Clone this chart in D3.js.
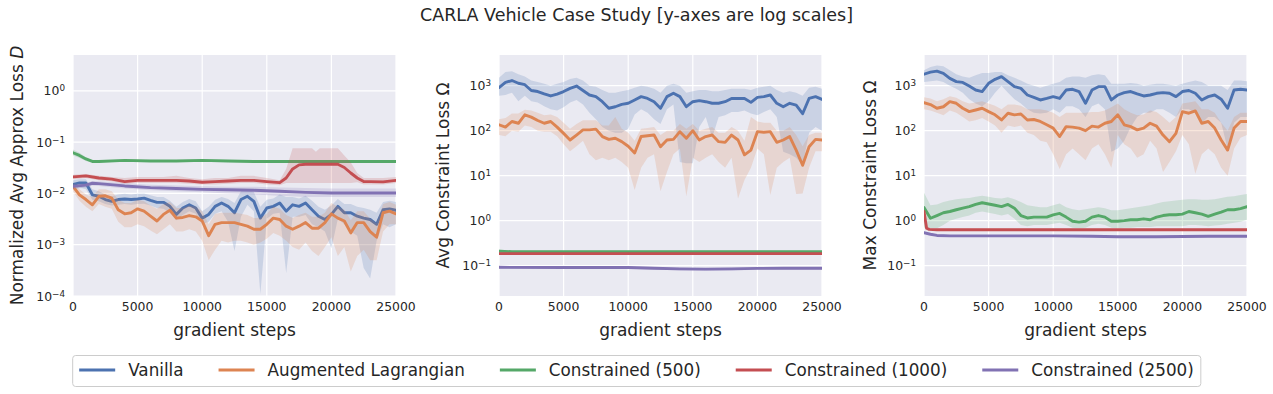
<!DOCTYPE html>
<html>
<head>
<meta charset="utf-8">
<script src="https://cdn.jsdelivr.net/npm/d3@7/dist/d3.min.js"></script>
<style>
  body { margin: 0; background: #ffffff; }
  text { font-family: "DejaVu Sans", sans-serif; fill: #262626; }
</style>
</head>
<body>
<div id="chart"></div>
<script>

// ---- data ----
var steps = [0,500,1000,1500,2000,2500,3000,3500,4000,4500,
    5000,5500,6000,6500,7000,7500,8000,8500,9000,9500,
    10000,10500,11000,11500,12000,12500,13000,13500,14000,14500,
    15000,15500,16000,16500,17000,17500,18000,18500,19000,19500,
    20000,20500,21000,21500,22000,22500,23000,23500,24000,24500,25000];

var seriesNames = ["Vanilla", "Augmented Lagrangian", "Constrained (500)", "Constrained (1000)", "Constrained (2500)"];
var seriesColors = ["#4c72b0", "#dd8452", "#55a868", "#c44e52", "#8172b3"];
var xTicks = [0, 5000, 10000, 15000, 20000, 25000];

// panel 1: normalized avg approx loss
var p1_vanilla_mean = [0.015,0.016,0.016,0.0094,0.0088,0.0076,0.007,0.0076,0.0078,0.0076,
    0.0078,0.0081,0.0073,0.0067,0.0067,0.0056,0.0039,0.0052,0.006,0.0052,
    0.0033,0.0039,0.0056,0.0065,0.0056,0.0042,0.0076,0.0088,0.007,0.0033,
    0.0052,0.0056,0.0065,0.0045,0.006,0.0056,0.0065,0.0048,0.0036,0.0031,
    0.0039,0.0056,0.0042,0.0042,0.0036,0.0033,0.0031,0.0025,0.0048,0.005,0.0047];
var p1_vanilla_lo = [0.012,0.013,0.012,0.0075,0.007,0.0062,0.0058,0.006,0.0062,0.006,
    0.0062,0.0063,0.0058,0.0052,0.005,0.0042,0.003,0.0038,0.0045,0.004,
    0.0025,0.0028,0.004,0.0045,0.0028,0.00075,0.0035,0.006,0.0045,0.00011,
    0.0032,0.004,0.0042,0.00028,0.0035,0.0035,0.0038,0.0025,0.0022,0.0018,
    0.00085,0.0032,0.0025,0.0018,0.0015,0.00035,0.00022,0.0012,0.0025,0.0022,0.0025];
var p1_vanilla_hi = [0.018,0.019,0.019,0.012,0.011,0.0095,0.0088,0.0095,0.0098,0.0095,
    0.0098,0.01,0.0092,0.0085,0.0085,0.0072,0.0055,0.0068,0.0078,0.007,
    0.0045,0.0055,0.0075,0.0085,0.0078,0.0065,0.011,0.012,0.0105,0.0055,
    0.0075,0.008,0.0095,0.0085,0.0085,0.008,0.009,0.0072,0.0055,0.0048,
    0.0058,0.0078,0.0062,0.0062,0.0055,0.0052,0.0048,0.0042,0.0068,0.0072,0.0068];

var p1_auglag_mean = [0.0137,0.0094,0.0076,0.006,0.0088,0.009,0.0081,0.0048,0.004,0.0042,
    0.005,0.0045,0.0036,0.0029,0.0039,0.0047,0.0033,0.0034,0.0037,0.0035,
    0.0029,0.0015,0.0025,0.0027,0.0027,0.0027,0.0025,0.0023,0.002,0.002,
    0.0025,0.0033,0.0031,0.0023,0.002,0.0023,0.0027,0.0021,0.0021,0.0027,
    0.004,0.0033,0.0029,0.0017,0.0027,0.0027,0.0018,0.0014,0.0042,0.0045,0.004];
var p1_auglag_lo = [0.011,0.0072,0.0055,0.0045,0.0062,0.0055,0.005,0.0028,0.0022,0.0022,
    0.0025,0.0023,0.0019,0.0016,0.002,0.0025,0.0018,0.0018,0.002,0.0018,
    0.0012,0.0005,0.0008,0.0012,0.0011,0.0012,0.0012,0.0011,0.001,0.0011,
    0.0013,0.0017,0.0015,0.0012,0.0009,0.0008,0.0011,0.00075,0.0006,0.0009,
    0.0014,0.0006,0.0009,0.0003,0.0006,0.0008,0.0005,0.0005,0.0018,0.0025,0.0025];
var p1_auglag_hi = [0.016,0.012,0.0095,0.0085,0.012,0.012,0.011,0.0075,0.0065,0.0065,
    0.0075,0.007,0.0058,0.005,0.0062,0.0068,0.0052,0.0052,0.0058,0.0055,
    0.0045,0.0025,0.004,0.0042,0.0042,0.0042,0.004,0.0038,0.0033,0.0033,
    0.004,0.0055,0.005,0.0038,0.0033,0.0038,0.0042,0.0035,0.0035,0.0042,
    0.0065,0.0055,0.0048,0.003,0.0045,0.0045,0.0032,0.0026,0.0062,0.0068,0.006];

var p1_c500_steps = [0,500,1000,1500,2000,4000,6000,8000,10000,12000,14000,16000,18000,20000,22000,25000];
var p1_c500_mean = [0.062,0.055,0.047,0.042,0.042,0.044,0.043,0.043,0.044,0.043,0.042,0.042,0.042,0.042,0.042,0.042];
var p1_c500_lo = [0.055,0.049,0.043,0.04,0.04,0.042,0.041,0.041,0.042,0.041,0.04,0.04,0.04,0.04,0.04,0.04];
var p1_c500_hi = [0.072,0.062,0.051,0.044,0.044,0.046,0.045,0.045,0.046,0.045,0.044,0.044,0.044,0.044,0.044,0.044];

var p1_c1000_steps = [0,1000,2000,3000,4000,5000,6000,7000,8000,9000,
    10000,11000,12000,13000,14000,15000,16000,16500,17000,17500,
    18000,18500,18800,19100,19500,20500,21000,21500,22000,22500,23000,24000,25000];
var p1_c1000_mean = [0.021,0.022,0.02,0.019,0.017,0.018,0.018,0.018,0.018,0.0175,
    0.0165,0.017,0.0175,0.018,0.018,0.017,0.0162,0.02,0.03,0.036,
    0.037,0.037,0.037,0.037,0.037,0.037,0.032,0.025,0.02,0.017,0.017,0.0168,0.018];
var p1_c1000_lo = [0.019,0.02,0.018,0.017,0.0155,0.016,0.016,0.016,0.016,0.0155,
    0.015,0.015,0.0155,0.016,0.016,0.015,0.0145,0.016,0.016,0.016,
    0.016,0.016,0.016,0.016,0.016,0.016,0.016,0.016,0.0165,0.015,0.015,0.015,0.016];
var p1_c1000_hi = [0.023,0.024,0.022,0.021,0.02,0.021,0.021,0.021,0.022,0.02,
    0.019,0.02,0.02,0.022,0.022,0.02,0.018,0.03,0.076,0.076,
    0.076,0.076,0.065,0.076,0.076,0.076,0.055,0.04,0.025,0.02,0.02,0.02,0.021];

var p1_c2500_steps = [0,1000,1500,2000,4000,6000,8000,10000,12000,14000,16000,18000,20000,22000,25000];
var p1_c2500_mean = [0.0137,0.0145,0.0158,0.0155,0.014,0.013,0.0125,0.012,0.0118,0.0115,0.011,0.0105,0.0102,0.0102,0.0102];
var p1_c2500_lo = [0.012,0.013,0.0142,0.014,0.0125,0.0115,0.011,0.0105,0.01,0.0095,0.009,0.0085,0.0085,0.0085,0.0085];
var p1_c2500_hi = [0.0155,0.016,0.0175,0.0172,0.0158,0.0148,0.0142,0.0138,0.0135,0.0135,0.013,0.0128,0.0125,0.0125,0.0125];

// panel 2: avg constraint loss
var p2_vanilla_mean = [900,1180,1300,1130,1050,780,740,655,590,650,
    740,870,980,780,620,570,440,315,340,385,
    406,481,570,520,440,315,570,677,570,341,
    440,465,440,406,406,440,520,520,520,425,
    550,570,620,406,341,406,370,238,520,570,495];
var p2_vanilla_lo = [600,620,700,450,600,450,420,350,300,280,
    330,420,480,380,250,180,120,100,90,90,
    110,230,300,250,180,140,300,380,20,19,
    19,120,200,70,200,220,260,260,280,240,
    220,260,300,200,34,30,25,17,90,120,100];
var p2_vanilla_hi = [1500,2000,2100,1800,1600,1300,1200,1100,1000,1100,
    1200,1400,1500,1300,1000,950,800,700,700,750,
    800,900,1000,950,850,700,1000,1100,1000,700,
    750,800,800,750,750,800,850,850,850,800,
    900,950,1000,800,700,750,700,600,900,950,850];

var p2_auglag_mean = [135,120,160,146,225,200,168,146,160,120,
    87,62,80,104,104,108,74,64,68,57,
    45,32,74,77,80,44,62,64,95,68,
    100,62,74,80,57,55,80,62,29,37,
    95,92,95,55,62,74,37,17,44,64,62];
var p2_auglag_lo = [80,75,100,95,130,120,100,95,95,75,
    50,35,45,60,30,22,25,22,25,20,
    15,4.8,15,25,30,4.5,12,30,40,3.5,
    25,20,25,30,20,15,25,3.1,8,15,
    40,30,3.7,15,20,25,3.9,4,15,35,35];
var p2_auglag_hi = [180,190,240,240,290,280,250,220,230,200,
    150,110,140,170,170,170,130,130,200,110,
    90,60,110,115,120,80,100,100,140,110,
    140,100,110,120,90,90,120,100,60,200,
    160,150,150,100,100,120,80,45,80,90,90];

var p2_c500_steps = [0,1000,25000];
var p2_c500_mean = [0.21,0.205,0.205];
var p2_c500_lo = [0.19,0.195,0.197];
var p2_c500_hi = [0.23,0.215,0.213];

var p2_c1000_steps = [0,25000];
var p2_c1000_mean = [0.185,0.185];
var p2_c1000_lo = [0.178,0.178];
var p2_c1000_hi = [0.192,0.192];

var p2_c2500_steps = [0,5000,10000,12000,14000,16000,18000,20000,22000,25000];
var p2_c2500_mean = [0.092,0.091,0.091,0.088,0.085,0.084,0.085,0.087,0.088,0.088];
var p2_c2500_lo = [0.086,0.085,0.085,0.082,0.078,0.077,0.078,0.081,0.082,0.082];
var p2_c2500_hi = [0.097,0.096,0.096,0.093,0.09,0.089,0.09,0.092,0.093,0.093];

// panel 3: max constraint loss
var p3_vanilla_mean = [1800,2000,2100,1880,1450,1230,1180,980,800,740,
    1130,1380,1585,1230,950,870,620,550,481,520,
    570,520,800,830,740,406,800,950,950,481,
    620,700,740,655,590,620,677,700,677,570,
    740,780,677,481,570,620,500,315,800,830,800];
var p3_vanilla_lo = [1200,1250,1300,1200,1000,850,700,500,400,350,
    450,700,1000,700,500,400,300,250,240,250,
    300,250,350,350,300,200,350,400,300,34,
    40,60,120,200,250,250,300,300,250,200,
    300,300,250,150,200,200,150,40,150,200,200];
var p3_vanilla_hi = [2200,2600,2800,2700,2200,1800,1600,1500,1700,1900,
    1900,2000,2000,1700,1500,1300,1100,1000,900,1000,
    1100,1200,1500,1600,1600,1500,1700,1800,1700,1100,
    1100,1100,1150,1100,1000,1050,1100,1100,1050,1000,
    1100,1200,1300,1200,1000,1000,1000,800,1300,1300,1250];

var p3_auglag_mean = [420,380,315,340,440,406,315,265,288,315,
    265,225,173,244,225,235,173,177,160,135,
    114,74,123,120,114,100,126,120,146,160,
    225,135,123,104,114,146,126,80,57,87,
    265,244,275,146,160,114,62,37,114,160,160];
var p3_auglag_lo = [300,280,250,220,280,250,200,160,170,190,
    160,130,90,130,120,130,90,80,60,55,
    30,14,30,40,30,22,40,50,30,15,
    80,50,40,25,30,60,40,12,20,35,
    80,50,11,30,40,30,15,10,40,70,80];
var p3_auglag_hi = [550,520,450,500,580,540,450,400,420,450,
    400,360,300,380,380,360,300,300,300,280,
    250,200,250,250,250,250,260,260,280,330,
    400,300,250,220,230,280,260,200,150,200,
    400,420,450,300,300,250,150,100,200,250,250];

var p3_c500_mean = [1.95,1.13,1.3,1.5,1.6,1.75,1.9,2.05,2.3,2.5,
    2.35,2.2,2.05,2.3,1.9,1.3,1.15,1.2,1.2,1.2,
    1.35,1.45,1.2,0.97,0.93,0.97,1.2,1.3,1.2,0.97,
    0.97,1.0,1.05,1.05,1.1,1.05,1.2,1.3,1.35,1.35,
    1.4,1.6,1.5,1.4,1.25,1.4,1.55,1.75,1.75,1.85,2.05];
var p3_c500_lo = [0.7,0.68,0.68,0.8,1.0,1.1,1.2,1.3,1.5,1.6,
    1.5,1.4,1.3,1.4,1.1,0.8,0.75,0.8,0.8,0.8,
    0.85,0.9,0.8,0.7,0.68,0.7,0.8,0.85,0.8,0.7,
    0.68,0.7,0.7,0.72,0.72,0.72,0.75,0.75,0.75,0.75,
    0.75,0.8,0.8,0.78,0.75,0.78,0.8,0.85,0.9,0.95,1.05];
var p3_c500_hi = [4.2,2.2,2.3,2.6,2.8,3.0,3.1,3.2,3.4,3.6,
    3.4,3.2,3.1,3.3,3.0,2.6,2.2,2.1,2.0,2.0,
    2.2,2.4,2.0,1.8,1.7,1.8,1.9,2.0,1.9,1.7,
    1.7,1.8,1.9,2.0,2.1,2.2,2.4,2.6,2.7,2.8,
    2.9,3.0,3.0,2.9,2.9,3.0,3.2,3.4,3.5,3.7,3.9];

var p3_c1000_steps = [0,200,400,1000,5000,10000,15000,20000,25000];
var p3_c1000_mean = [1.6,0.68,0.64,0.63,0.63,0.63,0.63,0.63,0.63];
var p3_c1000_lo = [1.5,0.65,0.61,0.6,0.6,0.6,0.6,0.6,0.6];
var p3_c1000_hi = [1.7,0.71,0.67,0.66,0.66,0.66,0.66,0.66,0.66];

var p3_c2500_steps = [0,500,1000,2000,5000,10000,13000,15000,18000,20000,22000,25000];
var p3_c2500_mean = [0.54,0.5,0.47,0.46,0.46,0.46,0.45,0.44,0.44,0.445,0.45,0.45];
var p3_c2500_lo = [0.52,0.48,0.45,0.44,0.44,0.44,0.43,0.42,0.42,0.425,0.43,0.43];
var p3_c2500_hi = [0.56,0.52,0.49,0.48,0.48,0.48,0.47,0.46,0.46,0.465,0.47,0.47];

// ---- layout ----
var W = 1273, H = 394;
var plotTop = 55, plotBottom = 296;

var svg = d3.select("#chart").append("svg")
    .attr("width", W)
    .attr("height", H);

function pack(xs, mean, lo, hi) {
    return xs.map(function (s, i) { return { s: s, m: mean[i], lo: lo[i], hi: hi[i] }; });
}

var panels = [
    {
        left: 73, right: 396, domain: [1e-4, 5], exps: [-4, -3, -2, -1, 0],
        label: ["Normalized Avg Approx Loss ", "D"], labelX: 17,
        series: [
            pack(steps, p1_vanilla_mean, p1_vanilla_lo, p1_vanilla_hi),
            pack(steps, p1_auglag_mean, p1_auglag_lo, p1_auglag_hi),
            pack(p1_c500_steps, p1_c500_mean, p1_c500_lo, p1_c500_hi),
            pack(p1_c1000_steps, p1_c1000_mean, p1_c1000_lo, p1_c1000_hi),
            pack(p1_c2500_steps, p1_c2500_mean, p1_c2500_lo, p1_c2500_hi)
        ]
    },
    {
        left: 499, right: 822, domain: [0.0212, 4800], exps: [-1, 0, 1, 2, 3],
        label: ["Avg Constraint Loss ", "Ω"], labelX: 443,
        series: [
            pack(steps, p2_vanilla_mean, p2_vanilla_lo, p2_vanilla_hi),
            pack(steps, p2_auglag_mean, p2_auglag_lo, p2_auglag_hi),
            pack(p2_c500_steps, p2_c500_mean, p2_c500_lo, p2_c500_hi),
            pack(p2_c1000_steps, p2_c1000_mean, p2_c1000_lo, p2_c1000_hi),
            pack(p2_c2500_steps, p2_c2500_mean, p2_c2500_lo, p2_c2500_hi)
        ]
    },
    {
        left: 924, right: 1247, domain: [0.0212, 4800], exps: [-1, 0, 1, 2, 3],
        label: ["Max Constraint Loss ", "Ω"], labelX: 870,
        series: [
            pack(steps, p3_vanilla_mean, p3_vanilla_lo, p3_vanilla_hi),
            pack(steps, p3_auglag_mean, p3_auglag_lo, p3_auglag_hi),
            pack(steps, p3_c500_mean, p3_c500_lo, p3_c500_hi),
            pack(p3_c1000_steps, p3_c1000_mean, p3_c1000_lo, p3_c1000_hi),
            pack(p3_c2500_steps, p3_c2500_mean, p3_c2500_lo, p3_c2500_hi)
        ]
    }
];

panels.forEach(function (p, pi) {
    var x = d3.scaleLinear().domain([0, 25000]).range([p.left, p.right]);
    var y = d3.scaleLog().domain(p.domain).range([plotBottom, plotTop]);
    var g = svg.append("g");

    g.append("rect")
        .attr("x", p.left).attr("y", plotTop)
        .attr("width", p.right - p.left).attr("height", plotBottom - plotTop)
        .attr("fill", "#eaeaf2");

    // grid
    g.selectAll(".vgrid").data(xTicks).enter().append("line")
        .attr("x1", function (d) { return x(d); }).attr("x2", function (d) { return x(d); })
        .attr("y1", plotTop).attr("y2", plotBottom)
        .attr("stroke", "#ffffff").attr("stroke-width", 1.2);
    g.selectAll(".hgrid").data(p.exps).enter().append("line")
        .attr("x1", p.left).attr("x2", p.right)
        .attr("y1", function (d) { return y(Math.pow(10, d)); })
        .attr("y2", function (d) { return y(Math.pow(10, d)); })
        .attr("stroke", "#ffffff").attr("stroke-width", 1.2);

    // tick labels
    g.selectAll(".xt").data(xTicks).enter().append("text")
        .attr("x", function (d) { return x(d); })
        .attr("y", 311)
        .attr("text-anchor", "middle")
        .style("font-size", "12.4px")
        .text(function (d) { return d; });

    var yt = g.selectAll(".yt").data(p.exps).enter().append("text")
        .attr("x", p.left - 8)
        .attr("y", function (d) { return y(Math.pow(10, d)) + 4.5; })
        .attr("text-anchor", "end")
        .style("font-size", "12.4px");
    yt.append("tspan").text("10");
    yt.append("tspan")
        .attr("dy", "-0.45em")
        .style("font-size", "8.8px")
        .text(function (d) { return d < 0 ? "\u2212" + (-d) : d; });

    // clip
    var clipId = "clip" + pi;
    svg.append("clipPath").attr("id", clipId).append("rect")
        .attr("x", p.left).attr("y", plotTop)
        .attr("width", p.right - p.left).attr("height", plotBottom - plotTop);

    var area = d3.area()
        .x(function (d) { return x(d.s); })
        .y0(function (d) { return y(d.lo); })
        .y1(function (d) { return y(d.hi); });
    var line = d3.line()
        .x(function (d) { return x(d.s); })
        .y(function (d) { return y(d.m); });

    var marks = g.append("g").attr("clip-path", "url(#" + clipId + ")");
    p.series.forEach(function (data, si) {
        marks.append("path")
            .attr("d", area(data))
            .attr("fill", seriesColors[si])
            .attr("fill-opacity", 0.2)
            .attr("stroke", "none");
        marks.append("path")
            .attr("d", line(data))
            .attr("fill", "none")
            .attr("stroke", seriesColors[si])
            .attr("stroke-width", 2.9)
            .attr("stroke-linejoin", "round")
            .attr("stroke-linecap", "round");
    });

    // axis labels
    g.append("text")
        .attr("x", (p.left + p.right) / 2)
        .attr("y", 336)
        .attr("text-anchor", "middle")
        .style("font-size", "17px")
        .text("gradient steps");

    var yl = g.append("text")
        .attr("transform", "translate(" + p.labelX + "," + ((plotTop + plotBottom) / 2) + ") rotate(-90)")
        .attr("dy", "0.35em")
        .attr("text-anchor", "middle")
        .style("font-size", "17px");
    yl.append("tspan").text(p.label[0]);
    yl.append("tspan").style("font-style", p.label[1] === "D" ? "italic" : "normal").text(p.label[1]);
});

// title
svg.append("text")
    .attr("x", W / 2)
    .attr("y", 21)
    .attr("text-anchor", "middle")
    .style("font-size", "17.5px")
    .text("CARLA Vehicle Case Study [y-axes are log scales]");

// legend
var handleLen = 36, handlePad = 13, colSpace = 35, legY = 370;
var legend = svg.append("g");
var legBox = legend.append("rect")
    .attr("fill", "#ffffff").attr("fill-opacity", 0.8)
    .attr("stroke", "#cccccc").attr("stroke-width", 1)
    .attr("rx", 3);
var items = legend.selectAll(".item").data(seriesNames).enter().append("g");
items.append("line")
    .attr("x1", 0).attr("x2", handleLen)
    .attr("y1", legY).attr("y2", legY)
    .attr("stroke", function (d, i) { return seriesColors[i]; })
    .attr("stroke-width", 2.9);
items.append("text")
    .attr("x", handleLen + handlePad)
    .attr("y", legY + 6)
    .style("font-size", "16.8px")
    .text(function (d) { return d; });

var widths = [];
items.select("text").each(function () { widths.push(this.getComputedTextLength()); });
var total = d3.sum(widths) + seriesNames.length * (handleLen + handlePad) + (seriesNames.length - 1) * colSpace;
var startX = W / 2 - total / 2;
var cx = startX;
items.attr("transform", function (d, i) {
    var t = "translate(" + cx + ",0)";
    cx += handleLen + handlePad + widths[i] + colSpace;
    return t;
});
legBox.attr("x", startX - 6.5).attr("y", 355.5)
    .attr("width", total + 13.5).attr("height", 31);

</script>
</body>
</html>
